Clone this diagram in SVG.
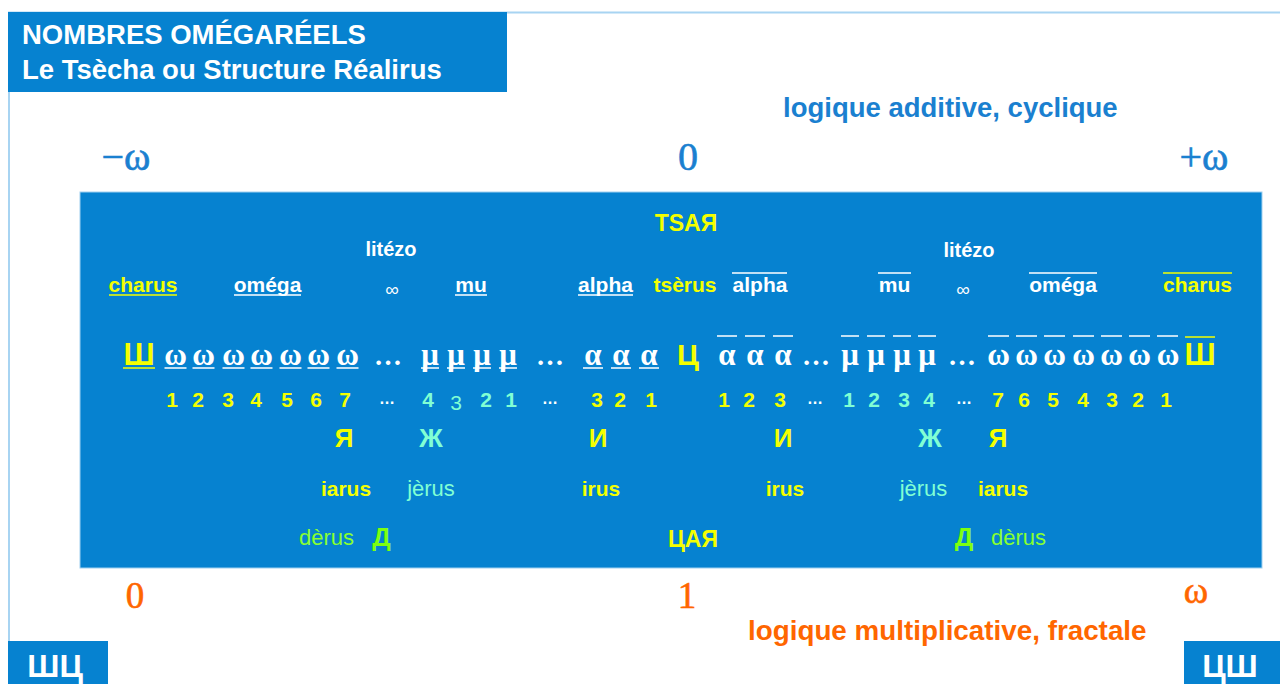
<svg xmlns="http://www.w3.org/2000/svg" width="1280" height="684" viewBox="0 0 1280 684">
<style>
.s{font-family:"Liberation Sans",Arial,sans-serif;font-weight:bold}
.r{font-family:"Liberation Sans",Arial,sans-serif;font-weight:normal}
.g{font-family:"Liberation Serif","Times New Roman",serif;font-weight:bold}
.n{font-family:"Liberation Serif","Times New Roman",serif;font-weight:normal}
.m{text-anchor:middle}
.w{fill:#ffffff}
.y{fill:#f4ff00}
.c{fill:#80ffd4}
.l{fill:#88ff30}
.d{fill:#7dff10}
.o{fill:#ff6600}
.b{fill:#1a80d0}
.box{fill:#0682d0}
.ul{stroke:#ffffff;stroke-width:1.6;fill:none}
.uy{stroke:#f4ff00;stroke-width:1.6;fill:none}
</style>
<rect x="0" y="0" width="1280" height="684" fill="#ffffff"/>
<path d="M9 641V12.5H1280" fill="none" stroke="#a8d4f2" stroke-width="2"/>
<g id="title">
<rect class="box" x="8" y="12" width="499" height="80"/>
<text class="s w" x="22" y="44" font-size="27.5">NOMBRES OMÉGARÉELS</text>
<text class="s w" x="22" y="79" font-size="27.5">Le Tsècha ou Structure Réalirus</text>
</g>
<g id="additive">
<text class="s b" x="783" y="117" font-size="27.5">logique additive, cyclique</text>
<text class="n b m" x="126" y="170" font-size="40" stroke="#1a80d0" stroke-width="0.6">−ω</text>
<text class="n b m" x="688" y="170" font-size="40" stroke="#1a80d0" stroke-width="0.6">0</text>
<text class="n b m" x="1204" y="170" font-size="40" stroke="#1a80d0" stroke-width="0.6">+ω</text>
</g>
<g id="main">
<rect class="box" x="80" y="192" width="1182" height="376" stroke="#9fd0f0" stroke-width="1"/>
<text class="s y m" x="686" y="231" font-size="23">TSAЯ</text>
<text class="s w m" x="391" y="256" font-size="20">litézo</text>
<text class="s w m" x="969" y="257" font-size="20">litézo</text>
</g>
<g id="labels" font-size="21">
<text class="s y m" x="143" y="292">charus</text>
<text class="s w m" x="267.5" y="292">oméga</text>
<text class="r w m" x="392" y="296" font-size="19">∞</text>
<text class="s w m" x="471" y="292">mu</text>
<text class="s w m" x="605.5" y="292">alpha</text>
<text class="s y m" x="685" y="292">tsèrus</text>
<text class="s w m" x="760" y="292">alpha</text>
<text class="s w m" x="894.5" y="292">mu</text>
<text class="r w m" x="963" y="296" font-size="19">∞</text>
<text class="s w m" x="1063" y="292">oméga</text>
<text class="s y m" x="1197.5" y="292">charus</text>
</g>
<g id="symbols" font-size="31">
<text class="s y m" x="139" y="365" font-size="31">Ш</text>
<text class="g w m" x="175.5" y="365">ω</text>
<text class="g w m" x="203.5" y="365">ω</text>
<text class="g w m" x="233.5" y="365">ω</text>
<text class="g w m" x="261.5" y="365">ω</text>
<text class="g w m" x="290.5" y="365">ω</text>
<text class="g w m" x="318.5" y="365">ω</text>
<text class="g w m" x="347.5" y="365">ω</text>
<text class="g w m" x="388" y="365" font-size="28">…</text>
<text class="g w m" x="430" y="365">μ</text>
<text class="g w m" x="456" y="365">μ</text>
<text class="g w m" x="482" y="365">μ</text>
<text class="g w m" x="508" y="365">μ</text>
<text class="g w m" x="550" y="365" font-size="28">…</text>
<text class="g w m" x="593" y="365">α</text>
<text class="g w m" x="621" y="365">α</text>
<text class="g w m" x="649" y="365">α</text>
<text class="s y m" x="688" y="365" font-size="30">Ц</text>
<text class="g w m" x="727" y="365">α</text>
<text class="g w m" x="755" y="365">α</text>
<text class="g w m" x="783" y="365">α</text>
<text class="g w m" x="816" y="365" font-size="28">…</text>
<text class="g w m" x="850" y="365">μ</text>
<text class="g w m" x="876" y="365">μ</text>
<text class="g w m" x="902" y="365">μ</text>
<text class="g w m" x="927" y="365">μ</text>
<text class="g w m" x="962" y="365" font-size="28">…</text>
<text class="g w m" x="998.5" y="365">ω</text>
<text class="g w m" x="1026.5" y="365">ω</text>
<text class="g w m" x="1054.5" y="365">ω</text>
<text class="g w m" x="1083.5" y="365">ω</text>
<text class="g w m" x="1111.5" y="365">ω</text>
<text class="g w m" x="1139.5" y="365">ω</text>
<text class="g w m" x="1168" y="365">ω</text>
<text class="s y m" x="1200" y="365" font-size="31">Ш</text>
</g>
<g id="bars">
<path class="ul" d="M234 295H301M455 295H487M578 295H633M732 273H787M878 273H911M1029 273H1097"/>
<path class="uy" d="M109 295H177M1163 273H1232M123 368H155M1185 337H1215"/>
<path class="ul" d="M164.5 368H186.5M192.5 368H214.5M222.5 368H244.5M250.5 368H272.5M279.5 368H301.5M307.5 368H329.5M336.5 368H358.5M421 368H439M447 368H465M473 368H491M499 368H517M583 368H603M611 368H631M639 368H659"/>
<path class="ul" d="M717 336H737M745 336H765M773 336H793M841 336H859M867 336H885M893 336H911M918 336H936M988 336H1009M1016 336H1037M1044 336H1065M1073 336H1094M1101 336H1122M1129 336H1150M1157 336H1178"/>
</g>
<g id="numbers" font-size="21">
<text class="s y m" x="172" y="407">1</text>
<text class="s y m" x="198" y="407">2</text>
<text class="s y m" x="228" y="407">3</text>
<text class="s y m" x="256" y="407">4</text>
<text class="s y m" x="287" y="407">5</text>
<text class="s y m" x="316" y="407">6</text>
<text class="s y m" x="345" y="407">7</text>
<text class="s w m" x="387" y="404" font-size="16">…</text>
<text class="s c m" x="428" y="407">4</text>
<text class="r c m" x="456" y="410">3</text>
<text class="s c m" x="486" y="407">2</text>
<text class="s c m" x="511" y="407">1</text>
<text class="s w m" x="550" y="404" font-size="16">…</text>
<text class="s y m" x="597" y="407">3</text>
<text class="s y m" x="620" y="407">2</text>
<text class="s y m" x="651" y="407">1</text>
<text class="s y m" x="724" y="407">1</text>
<text class="s y m" x="749" y="407">2</text>
<text class="s y m" x="780" y="407">3</text>
<text class="s w m" x="815" y="404" font-size="16">…</text>
<text class="s c m" x="849" y="407">1</text>
<text class="s c m" x="874" y="407">2</text>
<text class="s c m" x="904" y="407">3</text>
<text class="s c m" x="929" y="407">4</text>
<text class="s w m" x="964" y="404" font-size="16">…</text>
<text class="s y m" x="998" y="407">7</text>
<text class="s y m" x="1024" y="407">6</text>
<text class="s y m" x="1053" y="407">5</text>
<text class="s y m" x="1083" y="407">4</text>
<text class="s y m" x="1112" y="407">3</text>
<text class="s y m" x="1138" y="407">2</text>
<text class="s y m" x="1166" y="407">1</text>
</g>
<g id="letters" font-size="26">
<text class="s y m" x="344" y="447">Я</text>
<text class="s c m" x="431" y="447">Ж</text>
<text class="s y m" x="598" y="447">И</text>
<text class="s y m" x="783" y="447">И</text>
<text class="s c m" x="930" y="447">Ж</text>
<text class="s y m" x="998" y="447">Я</text>
</g>
<g id="names" font-size="21">
<text class="s y m" x="346" y="496">iarus</text>
<text class="r c m" x="431" y="496" font-size="22">jèrus</text>
<text class="s y m" x="601" y="496">irus</text>
<text class="s y m" x="785" y="496">irus</text>
<text class="r c m" x="923.5" y="496" font-size="22">jèrus</text>
<text class="s y m" x="1003" y="496">iarus</text>
<text class="r l m" x="326.5" y="545" font-size="22">dèrus</text>
<text class="s d m" x="381.5" y="546" font-size="26">Д</text>
<text class="s y m" x="693" y="547" font-size="23">ЦАЯ</text>
<text class="s d m" x="964" y="546" font-size="26">Д</text>
<text class="r l m" x="1018.5" y="545" font-size="22">dèrus</text>
</g>
<g id="multiplicative">
<text class="n o m" x="135" y="608" font-size="37" stroke="#ff6600" stroke-width="0.6">0</text>
<text class="n o m" x="687" y="608" font-size="37" stroke="#ff6600" stroke-width="0.6">1</text>
<text class="n o m" x="1196" y="603" font-size="37" stroke="#ff6600" stroke-width="0.6">ω</text>
<text class="s o" x="748" y="640" font-size="27.8">logique multiplicative, fractale</text>
</g>
<g id="box-left">
<rect class="box" x="8" y="641" width="100" height="43"/>
<text class="s w m" x="55" y="677" font-size="32">ШЦ</text>
</g>
<g id="box-right">
<rect class="box" x="1184" y="641" width="96" height="43"/>
<text class="s w m" x="1230" y="677" font-size="32">ЦШ</text>
</g>
</svg>
